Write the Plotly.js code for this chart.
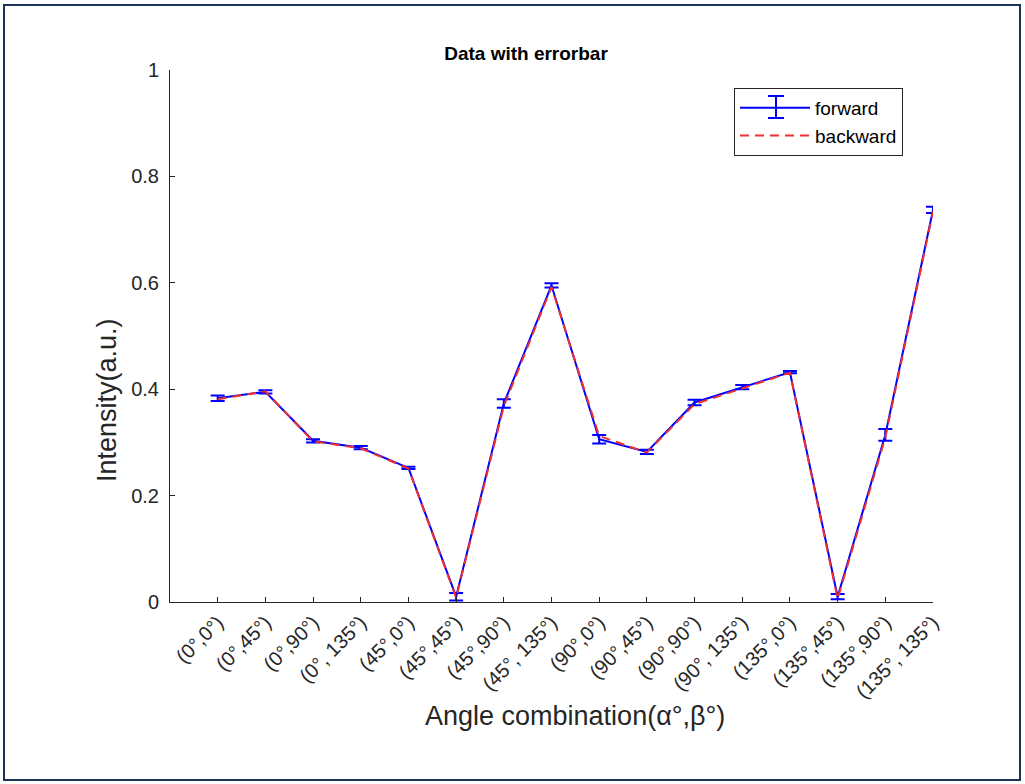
<!DOCTYPE html>
<html>
<head>
<meta charset="utf-8">
<script src="https://cdn.plot.ly/plotly-3.0.1.min.js"></script>
<style>
  html, body { margin: 0; padding: 0; background: #ffffff; }
  #wrap { position: relative; width: 1025px; height: 784px; }
  #chart { width: 1025px; height: 784px; }
  #frame { position: absolute; left: 3px; top: 4px; right: 4px; bottom: 3px; border: 2px solid #1f3558; pointer-events: none; }
</style>
</head>
<body>
<div id="wrap">
  <div id="chart"></div>
  <div id="frame"></div>
</div>
<script>
const categories = ["(0°,0°)", "(0°,45°)", "(0°,90°)", "(0°, 135°)", "(45°,0°)", "(45°,45°)", "(45°,90°)", "(45°, 135°)",
                    "(90°,0°)", "(90°,45°)", "(90°,90°)", "(90°, 135°)", "(135°,0°)", "(135°,45°)", "(135°,90°)", "(135°, 135°)"];
const forwardValues = [0.383, 0.395, 0.303, 0.290, 0.252, 0.010, 0.373, 0.595, 0.306, 0.282, 0.375, 0.404, 0.432, 0.010, 0.314, 0.737];
const forwardErrors = [0.005, 0.003, 0.003, 0.003, 0.002, 0.007, 0.008, 0.004, 0.008, 0.004, 0.005, 0.004, 0.002, 0.005, 0.011, 0.006];
const backwardValues = [0.381, 0.396, 0.302, 0.289, 0.251, 0.008, 0.368, 0.592, 0.312, 0.281, 0.372, 0.402, 0.431, 0.006, 0.309, 0.734];
const yTickVals = [0, 0.2, 0.4, 0.6, 0.8, 1];
const yTickText = ["0", "0.2", "0.4", "0.6", "0.8", "1"];
const xTitle = "Angle combination(α°,β°)";
const yTitle = "Intensity(a.u.)";

const axisColor = "#262626";
const font = "Liberation Sans, Arial, sans-serif";

const traces = [
  {
    x: categories, y: forwardValues, name: "forward", type: "scatter", mode: "lines",
    line: { color: "#0000ff", width: 2 },
    error_y: { type: "data", array: forwardErrors, visible: true, color: "#0000ff", thickness: 2, width: 7 }
  },
  {
    x: categories, y: backwardValues, name: "backward", type: "scatter", mode: "lines",
    line: { color: "#f03030", width: 2, dash: "9px,6px" }
  }
];

// small error-bar glyph on the legend's "forward" sample line (legend background is transparent)
const px = v => v / 1025, py = v => 1 - v / 784;
const gx = 776, gTop = 96, gBot = 118, gw = 8;
const glyph = { type: "line", xref: "paper", yref: "paper", layer: "above", line: { color: "#0000ff", width: 2 } };
const legendShapes = [
  { type: "rect", xref: "paper", yref: "paper", layer: "above", x0: px(734), x1: px(914), y0: py(149), y1: py(88),
    fillcolor: "#ffffff", line: { width: 0 } },
  Object.assign({}, glyph, { x0: px(gx), x1: px(gx), y0: py(gBot), y1: py(gTop) }),
  Object.assign({}, glyph, { x0: px(gx - gw), x1: px(gx + gw), y0: py(gTop), y1: py(gTop) }),
  Object.assign({}, glyph, { x0: px(gx - gw), x1: px(gx + gw), y0: py(gBot), y1: py(gBot) })
];
// fix paper-ref shapes to the container by converting through the plot area
const plotL = 170, plotW = 763, plotT = 70, plotH = 532;
legendShapes.forEach(s => {
  s.x0 = (s.x0 * 1025 - plotL) / plotW; s.x1 = (s.x1 * 1025 - plotL) / plotW;
  s.y0 = 1 - ((1 - s.y0) * 784 - plotT) / plotH; s.y1 = 1 - ((1 - s.y1) * 784 - plotT) / plotH;
});

const layout = {
  width: 1025, height: 784,
  paper_bgcolor: "#ffffff", plot_bgcolor: "#ffffff",
  margin: { l: 170, r: 92, t: 70, b: 182 },
  font: { family: font, color: axisColor, size: 20 },
  title: { text: "<b>Data with errorbar</b>", font: { family: font, size: 19, color: "#000000" },
           x: 526 / 1025, xref: "container", xanchor: "center", y: 1 - 53 / 784, yref: "container", yanchor: "middle" },
  showlegend: true,
  legend: { x: (734 - plotL) / plotW, y: 1 - (88 - plotT) / plotH, xanchor: "left", yanchor: "top", bgcolor: "rgba(0,0,0,0)",
            bordercolor: "#262626", borderwidth: 1, itemwidth: 70,
            font: { family: font, size: 19, color: "#000000" }, tracegroupgap: 0 },
  shapes: legendShapes,
  annotations: [
    { text: xTitle, xref: "paper", yref: "paper", x: (575 - plotL) / plotW, y: -(716 - plotT - plotH) / plotH,
      xanchor: "center", yanchor: "middle", showarrow: false, font: { family: font, size: 27, color: axisColor } },
    { text: yTitle, xref: "paper", yref: "paper", x: (107 - plotL) / plotW, y: 1 - (400 - plotT) / plotH, textangle: -90,
      xanchor: "center", yanchor: "middle", showarrow: false, font: { family: font, size: 27, color: axisColor } }
  ],
  xaxis: {
    type: "category", range: [-1, 15], tickmode: "array", tickvals: categories, ticktext: categories,
    tickangle: -45, ticks: "inside", ticklen: 5, tickcolor: axisColor, tickwidth: 1,
    showline: true, linecolor: axisColor, linewidth: 1, mirror: false, showgrid: false, zeroline: false,
    tickfont: { family: font, size: 20, color: axisColor }
  },
  yaxis: {
    range: [0, 1], tickmode: "array", tickvals: yTickVals, ticktext: yTickText,
    ticks: "inside", ticklen: 5, tickcolor: axisColor, tickwidth: 1,
    showline: true, linecolor: axisColor, linewidth: 1, mirror: false, showgrid: false, zeroline: false,
    tickfont: { family: font, size: 20, color: axisColor }, ticklabelstandoff: 6
  }
};

Plotly.newPlot("chart", traces, layout, { displayModeBar: false, staticPlot: true });
</script>
</body>
</html>
